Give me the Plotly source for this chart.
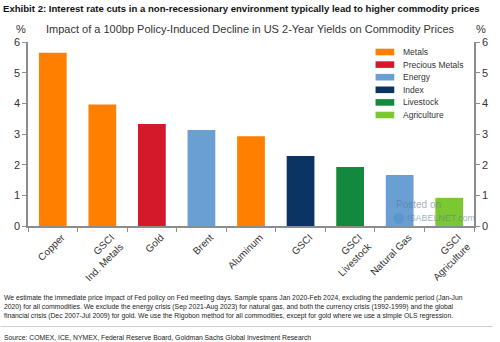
import plotly.graph_objects as go

categories = ["Copper", "GSCI<br>Ind. Metals", "Gold", "Brent", "Aluminum",
              "GSCI", "GSCI<br>Livestock", "Natural Gas", "GSCI<br>Agriculture"]
values = [5.65, 3.96, 3.33, 3.13, 2.93, 2.28, 1.92, 1.66, 0.92]
groups = ["Metals", "Metals", "Precious Metals", "Energy", "Metals",
          "Index", "Livestock", "Energy", "Agriculture"]
legend_names = ["Metals", "Precious Metals", "Energy", "Index", "Livestock", "Agriculture"]
colors = {"Metals": "#FF7F00", "Precious Metals": "#D41A2A", "Energy": "#6A9FD3",
          "Index": "#0B3462", "Livestock": "#12893E", "Agriculture": "#7CC832"}
y_ticks = [0, 1, 2, 3, 4, 5, 6]

W, H = 500, 342
L, R, T, B = 28, 19, 42, 116
PW, PH = W - L - R, H - T - B

fig = go.Figure()
fig.add_trace(go.Bar(
    x=categories, y=values,
    marker=dict(color=[colors[g] for g in groups], line=dict(width=0)),
    width=0.56, showlegend=False, hoverinfo="x+y"))

axis_col = "#8c8c8c"
sans = "Liberation Sans, Arial, sans-serif"
tick_font = dict(family=sans, size=11, color="#333")
fig.update_layout(
    width=W, height=H,
    margin=dict(l=L, r=R, t=T, b=B, pad=0),
    paper_bgcolor="white", plot_bgcolor="white",
    xaxis=dict(type="category", range=[-0.5, 8.5], tickson="boundaries",
               ticks="outside", ticklen=4, tickcolor=axis_col, tickwidth=1.2,
               showline=True, linecolor=axis_col, linewidth=1.5,
               tickangle=-45, showgrid=False, ticklabelshift=9,
               tickfont=dict(family=sans, size=10, color="#333")),
    yaxis=dict(range=[0, 6], tickvals=y_ticks, ticks="outside", ticklen=4,
               tickcolor=axis_col, tickwidth=1.2, showline=True, linecolor=axis_col,
               linewidth=1.5, showgrid=False, zeroline=False, tickfont=tick_font),
    yaxis2=dict(range=[0, 6], tickvals=y_ticks, ticks="outside", ticklen=4,
                tickcolor=axis_col, tickwidth=1.2, showline=True, linecolor=axis_col,
                linewidth=1.5, showgrid=False, zeroline=False, tickfont=tick_font,
                overlaying="y", side="right", matches="y"),
    showlegend=False,
)
fig.add_trace(go.Scatter(x=[categories[0]], y=[0], yaxis="y2", mode="markers",
                         marker=dict(opacity=0), showlegend=False, hoverinfo="skip"))


def px(x):
    return (x - L) / PW


def py(y):
    return (H - B - y) / PH


ann = []
shapes = []
ann.append(dict(text="<b>Exhibit 2: Interest rate cuts in a non-recessionary environment typically lead to higher commodity prices</b>",
                x=px(1), y=py(8), xref="paper", yref="paper", xanchor="left", yanchor="middle",
                showarrow=False, font=dict(family=sans, size=9.6, color="#111")))
ann.append(dict(text="Impact of a 100bp Policy-Induced Decline in US 2-Year Yields on Commodity Prices",
                x=px(254), y=py(29), xref="paper", yref="paper", xanchor="center", yanchor="middle",
                showarrow=False, font=dict(family=sans, size=11, color="#333")))
for xx in (21, 488):
    ann.append(dict(text="%", x=px(xx), y=py(29), xref="paper", yref="paper",
                    xanchor="center", yanchor="middle", showarrow=False, font=tick_font))

for i, name in enumerate(legend_names):
    yc = 52 + i * 12.6
    shapes.append(dict(type="rect", xref="paper", yref="paper",
                       x0=px(381), x1=px(400), y0=py(yc - 3.3), y1=py(yc + 3.3),
                       fillcolor=colors[name], line=dict(width=0)))
    ann.append(dict(text=name, x=px(407), y=py(yc), xref="paper", yref="paper",
                    xanchor="left", yanchor="middle", showarrow=False,
                    font=dict(family=sans, size=8.5, color="#333")))

ann.append(dict(text="Posted on", x=px(400), y=py(204), xref="paper", yref="paper",
                xanchor="left", yanchor="middle", showarrow=False,
                font=dict(family=sans, size=10, color="rgba(90,120,150,0.6)")))
ann.append(dict(text="ISABELNET.com", x=px(411), y=py(218), xref="paper", yref="paper",
                xanchor="left", yanchor="middle", showarrow=False,
                font=dict(family=sans, size=9, color="rgba(90,120,150,0.6)")))
shapes.append(dict(type="circle", xref="paper", yref="paper",
                   x0=px(399), x1=px(410), y0=py(224), y1=py(213),
                   fillcolor="rgba(70,140,200,0.45)", line=dict(width=0)))

foot = ["We estimate the immediate price impact of Fed policy on Fed meeting days. Sample spans Jan 2020-Feb 2024, excluding the pandemic period (Jan-Jun",
        "2020) for all commodities. We exclude the energy crisis (Sep 2021-Aug 2023) for natural gas, and both the currency crisis (1992-1999) and the global",
        "financial crisis (Dec 2007-Jul 2009) for gold. We use the Rigobon method for all commodities, except for gold where we use a simple OLS regression."]
for i, line in enumerate(foot):
    ann.append(dict(text=line, x=px(2), y=py(298 + i * 9), xref="paper", yref="paper",
                    xanchor="left", yanchor="middle", showarrow=False,
                    font=dict(family=sans, size=6.8, color="#222")))
shapes.append(dict(type="line", xref="paper", yref="paper", x0=px(0), x1=px(500),
                   y0=py(326.5), y1=py(326.5), line=dict(color="#cfcfcf", width=1)))
ann.append(dict(text="Source: COMEX, ICE, NYMEX, Federal Reserve Board, Goldman Sachs Global Investment Research",
                x=px(2), y=py(337), xref="paper", yref="paper", xanchor="left", yanchor="middle",
                showarrow=False, font=dict(family=sans, size=6.8, color="#222")))

fig.update_layout(annotations=ann, shapes=shapes)
fig.write_html("out.html")
